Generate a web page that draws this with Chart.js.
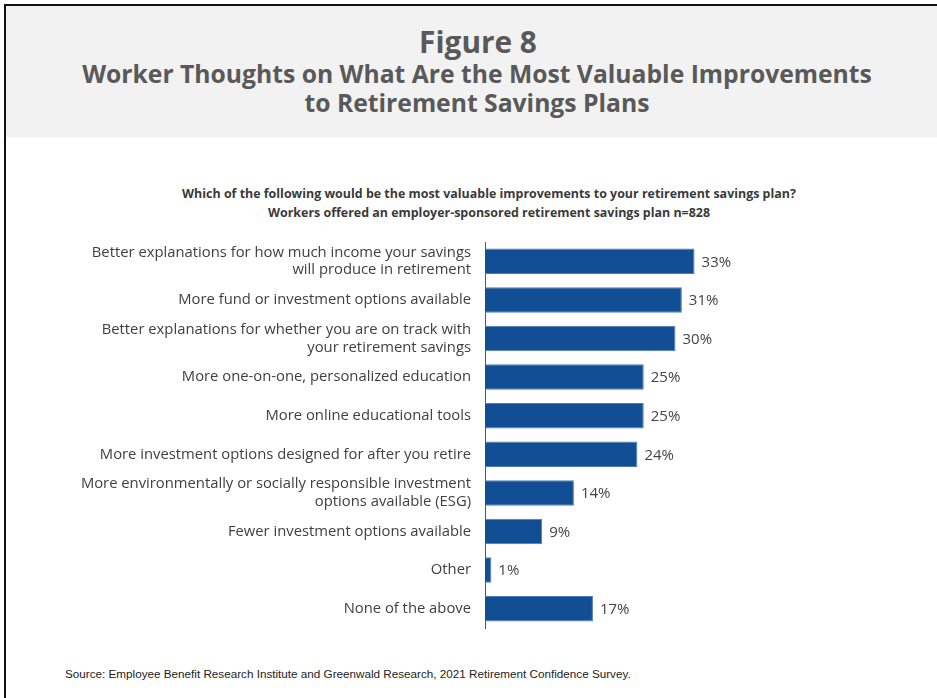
<!DOCTYPE html>
<html>
<head>
<meta charset="utf-8">
<script src="https://cdn.jsdelivr.net/npm/chart.js@4.4.1/dist/chart.umd.min.js"></script>
<style>
  html, body { margin: 0; padding: 0; background: #fff; }
  body { width: 937px; height: 698px; position: relative; overflow: hidden; font-family: "Open Sans", Lato, sans-serif; }
  .frame { position: absolute; left: 4px; top: 4px; right: -10px; bottom: -10px; border-top: 2px solid #111; border-left: 2px solid #111; }
  .header { position: absolute; left: 6px; top: 6px; width: 931px; height: 131px; background: #f2f2f2; }
  .fig { position: absolute; left: 0; width: 956px; top: 21px; text-align: center; font-weight: 700; font-size: 29.8px; color: #595959; }
  .sub { position: absolute; left: 0; width: 954px; top: 59px; text-align: center; font-weight: 700; font-size: 24.7px; line-height: 29px; color: #595959; }
  .q { position: absolute; left: 0; width: 978px; top: 184px; text-align: center; font-weight: 700; font-size: 12.45px; line-height: 19px; color: #3a3a3a; }
  .src { position: absolute; left: 65px; top: 667px; font-family: "Liberation Sans", Arial, sans-serif; font-size: 11.7px; color: #222; }
  #wrap { position: absolute; left: 0; top: 225px; width: 937px; height: 415px; }
</style>
</head>
<body>
<div class="frame"></div>
<div class="header"></div>
<div class="fig">Figure 8</div>
<div class="sub">Worker Thoughts on What Are the Most Valuable Improvements<br>to Retirement Savings Plans</div>
<div class="q">Which of the following would be the most valuable improvements to your retirement savings plan?<br>Workers offered an employer-sponsored retirement savings plan n=828</div>
<div id="wrap"><canvas id="chart"></canvas></div>
<div class="src">Source: Employee Benefit Research Institute and Greenwald Research, 2021 Retirement Confidence Survey.</div>

<script>
// Answer options (multi-line labels are split into arrays)
const categories = [
  ["Better explanations for how much income your savings", "will produce in retirement"],
  "More fund or investment options available",
  ["Better explanations for whether you are on track with", "your retirement savings"],
  "More one-on-one, personalized education",
  "More online educational tools",
  "More investment options designed for after you retire",
  ["More environmentally or socially responsible investment", "options available (ESG)"],
  "Fewer investment options available",
  "Other",
  "None of the above"
];

// Share of workers choosing each option (%)
const shares = [33, 31, 30, 25, 25, 24, 14, 9, 1, 17];

const LABEL_FONT = '"Open Sans", Lato, sans-serif';

// Writes "NN%" just past the end of each bar
const valueLabels = {
  id: 'valueLabels',
  afterDatasetsDraw(chart) {
    const ctx = chart.ctx;
    const meta = chart.getDatasetMeta(0);
    const data = chart.data.datasets[0].data;
    ctx.save();
    ctx.font = '15px ' + LABEL_FONT;
    ctx.fillStyle = '#444';
    ctx.textAlign = 'left';
    ctx.textBaseline = 'middle';
    meta.data.forEach((bar, i) => {
      const p = bar.getProps(['x', 'y'], true);
      ctx.fillText(data[i] + '%', p.x + 7, p.y + 1);
    });
    ctx.restore();
  }
};

new Chart(document.getElementById('chart'), {
  type: 'bar',
  data: {
    labels: categories,
    datasets: [{
      data: shares,
      backgroundColor: '#114e93',
      borderColor: '#4d7db6',
      borderWidth: 1,
      barPercentage: 0.66,
      categoryPercentage: 1
    }]
  },
  options: {
    indexAxis: 'y',
    responsive: true,
    maintainAspectRatio: false,
    animation: false,
    layout: { padding: { top: 17, bottom: 12, left: 0, right: 198 } },
    plugins: {
      legend: { display: false },
      tooltip: { enabled: false }
    },
    scales: {
      x: {
        display: false,
        min: 0,
        max: 40
      },
      y: {
        grid: { display: false, drawTicks: false },
        border: { display: true, color: '#555', width: 1 },
        ticks: {
          padding: 14,
          color: '#404040',
          font: { family: LABEL_FONT, size: 14.8, lineHeight: 1.2 },
          autoSkip: false
        },
        afterFit(scale) {
          scale.width = 485;
          scale.paddingTop = 0;
          scale.paddingBottom = 0;
        }
      }
    }
  },
  plugins: [valueLabels]
});
</script>
</body>
</html>
